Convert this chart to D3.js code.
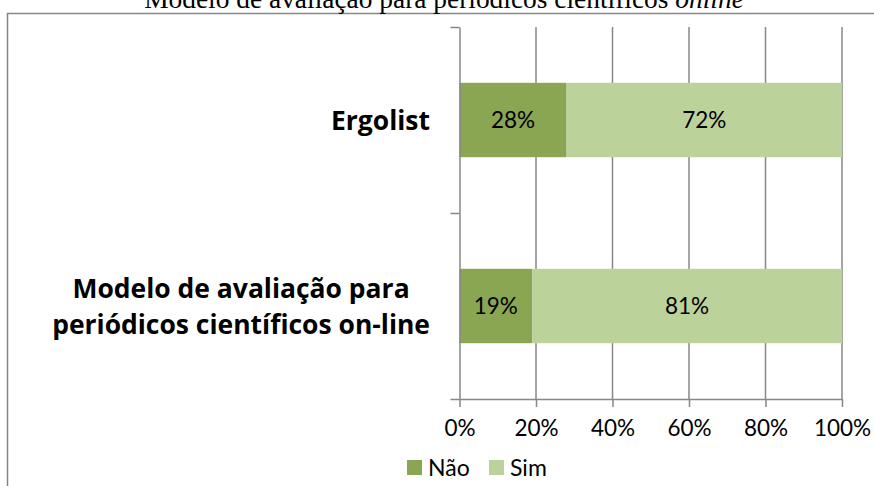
<!DOCTYPE html>
<html>
<head>
<meta charset="utf-8">
<script src="https://cdn.jsdelivr.net/npm/d3@7"></script>
<style>
  html, body { margin: 0; padding: 0; background: #fff; }
  svg { display: block; }
</style>
</head>
<body>
<svg id="chart" width="874" height="486"></svg>
<script>
// ---- data ----
const categories = ["Ergolist", "Modelo de avaliação para periódicos científicos on-line"];
const categoryLines = [["Ergolist"], ["Modelo de avaliação para", "periódicos científicos on-line"]];
const seriesNames = ["Não", "Sim"];
const naoValues = [0.28, 0.19];
const simValues = [0.72, 0.81];
const xTickValues = [0, 0.2, 0.4, 0.6, 0.8, 1.0];
const titleMain = "Modelo de avaliação para periódicos científicos ";
const titleItalic = "online";

const colors = { "Não": "#8aa652", "Sim": "#bcd29b" };
const axisColor = "#878787";

const svg = d3.select("#chart");

// frame
svg.append("path")
  .attr("d", "M7.5,486 V13.5 H874")
  .attr("fill", "none").attr("stroke", axisColor).attr("stroke-width", 1.5);

// title (partly cut off at top, as in the reference)
const title = svg.append("text")
  .attr("x", 444).attr("y", 8)
  .attr("text-anchor", "middle")
  .attr("font-family", "'Liberation Serif', serif")
  .attr("font-size", 20)
  .attr("fill", "#000");
title.append("tspan").text(titleMain);
title.append("tspan").attr("font-style", "italic").text(titleItalic);
{
  const w = title.node().getComputedTextLength();
  title.attr("font-size", 20 * 600 / w);
}

// scales
const x = d3.scaleLinear().domain([0, 1]).range([459.5, 842]);
const y = d3.scaleBand().domain(categories).range([27, 399]).paddingInner(0.6).paddingOuter(0.3);
const yEdge = d3.scaleLinear().domain([0, categories.length]).range([27, 399]);

// gridlines
svg.append("g").selectAll("line").data(xTickValues.slice(1)).join("line")
  .attr("x1", d => x(d)).attr("x2", d => x(d))
  .attr("y1", 27).attr("y2", 399)
  .attr("stroke", axisColor).attr("stroke-width", 1.5);

// bars
const stacked = categories.map((c, i) => ({ cat: c, parts: [
  { name: "Não", x0: 0, x1: naoValues[i], v: naoValues[i] },
  { name: "Sim", x0: naoValues[i], x1: naoValues[i] + simValues[i], v: simValues[i] }
]}));

const bars = svg.append("g");
stacked.forEach(s => {
  s.parts.forEach(p => {
    bars.append("rect")
      .attr("x", x(p.x0)).attr("width", x(p.x1) - x(p.x0))
      .attr("y", y(s.cat)).attr("height", y.bandwidth())
      .attr("fill", colors[p.name]);
    bars.append("text")
      .attr("x", (x(p.x0) + x(p.x1)) / 2)
      .attr("y", y(s.cat) + y.bandwidth() / 2)
      .attr("dy", "0.36em")
      .attr("text-anchor", "middle")
      .attr("font-family", "Lato, sans-serif")
      .attr("font-size", 22.5)
      .attr("fill", "#000")
      .text(Math.round(p.v * 100) + "%");
  });
});

// x axis
const xAxis = svg.append("g").attr("transform", "translate(0,399)")
  .call(d3.axisBottom(x).tickValues(xTickValues).tickFormat(d3.format(".0%")).tickSize(8).tickSizeOuter(0));
xAxis.select(".domain").attr("stroke", axisColor).attr("stroke-width", 1.5);
xAxis.selectAll(".tick line").attr("stroke", axisColor).attr("stroke-width", 1.5);
xAxis.selectAll(".tick text")
  .attr("font-family", "Lato, sans-serif").attr("font-size", 22.5).attr("fill", "#000")
  .attr("y", 21).attr("dy", "0.71em");

// y axis
const yAxis = svg.append("g").attr("transform", "translate(459.5,0)")
  .call(d3.axisLeft(yEdge).tickValues(d3.range(categories.length + 1)).tickFormat("").tickSize(9).tickSizeOuter(0));
yAxis.select(".domain").attr("stroke", axisColor).attr("stroke-width", 1.5);
yAxis.selectAll(".tick line").attr("stroke", axisColor).attr("stroke-width", 1.5);

// category labels (lines centred on each other, block right-aligned)
const labelFont = "'Open Sans', sans-serif";
const probe = svg.append("text").attr("font-family", labelFont).attr("font-weight", "bold")
  .attr("font-size", 20).text(categoryLines[1][1]);
const labelSize = 20 * 378 / probe.node().getComputedTextLength();
probe.remove();
const lineH = 36;
const labelRight = 430;
categories.forEach((c, i) => {
  const lines = categoryLines[i];
  const cy = y(c) + y.bandwidth() / 2;
  const t = svg.append("text")
    .attr("font-family", labelFont)
    .attr("font-weight", "bold")
    .attr("font-size", labelSize)
    .attr("fill", "#000");
  const spans = lines.map((ln, j) => t.append("tspan")
      .attr("y", cy + (j - (lines.length - 1) / 2) * lineH)
      .attr("dy", "0.36em")
      .text(ln));
  const maxW = d3.max(spans, s => s.node().getComputedTextLength());
  spans.forEach(s => s.attr("x", labelRight - maxW / 2).attr("text-anchor", "middle"));
});

// legend
const legend = svg.append("g");
const legendItems = [{ name: "Não", x: 407 }, { name: "Sim", x: 489 }];
legendItems.forEach(it => {
  legend.append("rect").attr("x", it.x).attr("y", 460).attr("width", 15).attr("height", 15)
    .attr("fill", colors[it.name]);
  legend.append("text").attr("x", it.x + 21).attr("y", 467.5).attr("dy", "0.36em")
    .attr("font-family", "Lato, sans-serif").attr("font-size", 23).attr("fill", "#000")
    .text(it.name);
});
</script>
</body>
</html>
